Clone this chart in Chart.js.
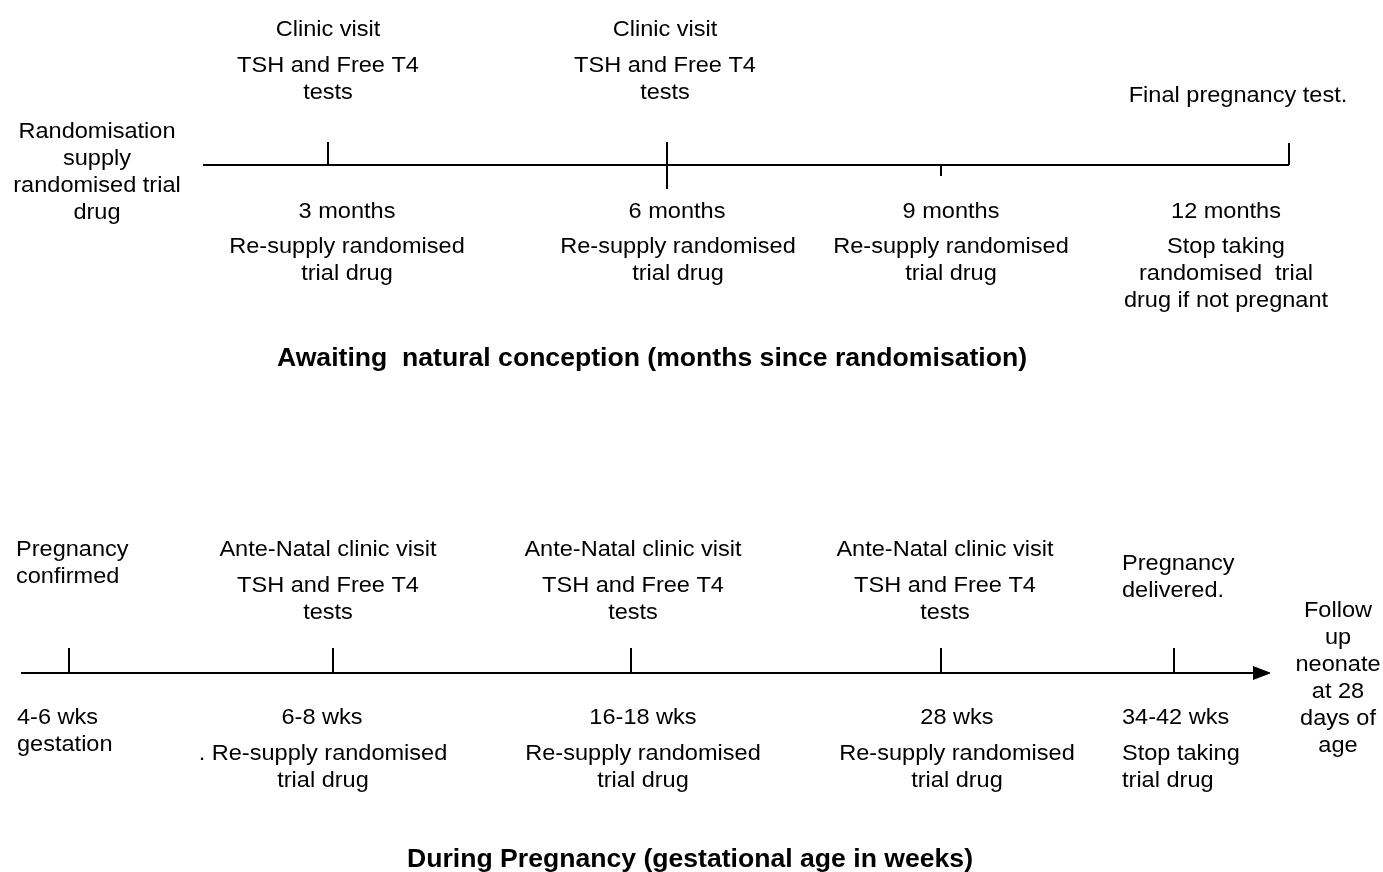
<!DOCTYPE html>
<html>
<head>
<meta charset="utf-8">
<script src="https://cdn.jsdelivr.net/npm/chart.js@4/dist/chart.umd.min.js"></script>
<style>
  html, body { margin: 0; padding: 0; background: #fff; }
  canvas { display: block; }
</style>
</head>
<body>
<canvas id="myChart" width="1383" height="872"></canvas>
<script>
// DATOS
// línea superior: esperando concepción (meses desde aleatorización)
const topLineX = [203, 1289]
const topLineY = 165
const topTickX = [328, 667, 941, 1289]
const topTickFrom = [142, 142, 165, 143]
const topTickTo = [165, 189, 176, 165]

// línea inferior: durante el embarazo (semanas)
const bottomLineX = [21, 1256]
const bottomLineY = 673
const bottomTickX = [69, 333, 631, 941, 1174]
const bottomTickFrom = [648, 648, 648, 648, 648]
const arrowTipX = 1270

// textos: [x, línea base, alineación, líneas]
const topTexts = [
    [97, 138, "center", ["Randomisation", "supply", "randomised trial", "drug"]],
    [328, 36, "center", ["Clinic visit"]],
    [328, 72, "center", ["TSH and Free T4", "tests"]],
    [665, 36, "center", ["Clinic visit"]],
    [665, 72, "center", ["TSH and Free T4", "tests"]],
    [1238, 102, "center", ["Final pregnancy test."]],
    [347, 218, "center", ["3 months"]],
    [347, 253, "center", ["Re-supply randomised", "trial drug"]],
    [677, 218, "center", ["6 months"]],
    [678, 253, "center", ["Re-supply randomised", "trial drug"]],
    [951, 218, "center", ["9 months"]],
    [951, 253, "center", ["Re-supply randomised", "trial drug"]],
    [1226, 218, "center", ["12 months"]],
    [1226, 253, "center", ["Stop taking", "randomised  trial", "drug if not pregnant"]],
]
const bottomTexts = [
    [16, 556, "left", ["Pregnancy", "confirmed"]],
    [328, 556, "center", ["Ante-Natal clinic visit"]],
    [328, 592, "center", ["TSH and Free T4", "tests"]],
    [633, 556, "center", ["Ante-Natal clinic visit"]],
    [633, 592, "center", ["TSH and Free T4", "tests"]],
    [945, 556, "center", ["Ante-Natal clinic visit"]],
    [945, 592, "center", ["TSH and Free T4", "tests"]],
    [1122, 570, "left", ["Pregnancy", "delivered."]],
    [1338, 617, "center", ["Follow", "up", "neonate", "at 28", "days of", "age"]],
    [17, 724, "left", ["4-6 wks", "gestation"]],
    [322, 724, "center", ["6-8 wks"]],
    [323, 760, "center", [". Re-supply randomised", "trial drug"]],
    [643, 724, "center", ["16-18 wks"]],
    [643, 760, "center", ["Re-supply randomised", "trial drug"]],
    [957, 724, "center", ["28 wks"]],
    [957, 760, "center", ["Re-supply randomised", "trial drug"]],
    [1122, 724, "left", ["34-42 wks"]],
    [1122, 760, "left", ["Stop taking", "trial drug"]],
]
const titles = [
    [652, 366, "Awaiting  natural conception (months since randomisation)"],
    [690, 867, "During Pregnancy (gestational age in weeks)"],
]

// FUNCIONES
function segmento(x1, y1, x2, y2) {
    return {
        data: [{ x: x1, y: y1 }, { x: x2, y: y2 }],
        borderColor: "#000",
        borderWidth: 2,
        pointRadius: 0,
        showLine: true,
        fill: false,
    }
}

const textos = {
    id: "textos",
    afterDatasetsDraw(chart) {
        const ctx = chart.ctx
        const sx = chart.scales.x
        const sy = chart.scales.y
        ctx.save()
        ctx.fillStyle = "#000"
        ctx.textBaseline = "alphabetic"
        ctx.font = '22px "Liberation Sans", Arial, sans-serif'
        topTexts.concat(bottomTexts).forEach(([x, y, align, lineas]) => {
            ctx.textAlign = align
            lineas.forEach((t, i) => {
                ctx.save()
                ctx.translate(sx.getPixelForValue(x), sy.getPixelForValue(y + i * 27))
                ctx.scale(1.07, 1)
                ctx.fillText(t, 0, 0)
                ctx.restore()
            })
        })
        ctx.font = 'bold 26.6px "Liberation Sans", Arial, sans-serif'
        ctx.textAlign = "center"
        titles.forEach(([x, y, t]) => {
            ctx.fillText(t, sx.getPixelForValue(x), sy.getPixelForValue(y))
        })
        ctx.restore()
    },
}

// EJECUCIÓN DEL PROGRAMA
const datasets = []
datasets.push(segmento(topLineX[0], topLineY, topLineX[1], topLineY))
topTickX.forEach((x, i) => datasets.push(segmento(x, topTickFrom[i], x, topTickTo[i])))
datasets.push(segmento(bottomLineX[0], bottomLineY, bottomLineX[1], bottomLineY))
bottomTickX.forEach((x, i) => datasets.push(segmento(x, bottomTickFrom[i], x, bottomLineY)))
// punta de flecha
datasets.push({
    data: [
        { x: arrowTipX - 17, y: bottomLineY - 6.5 },
        { x: arrowTipX, y: bottomLineY },
        { x: arrowTipX - 17, y: bottomLineY + 6.5 },
    ],
    borderColor: "#000",
    backgroundColor: "#000",
    borderWidth: 1,
    pointRadius: 0,
    showLine: true,
    fill: "shape",
})

const ctx = document.getElementById("myChart").getContext("2d")
new Chart(ctx, {
    type: "scatter",
    data: { datasets: datasets },
    options: {
        responsive: false,
        animation: false,
        devicePixelRatio: 1,
        layout: { padding: 0 },
        scales: {
            x: { type: "linear", min: 0, max: 1383, display: false },
            y: { type: "linear", min: 0, max: 872, reverse: true, display: false },
        },
        plugins: {
            legend: { display: false },
            tooltip: { enabled: false },
        },
    },
    plugins: [textos],
})
</script>
</body>
</html>
